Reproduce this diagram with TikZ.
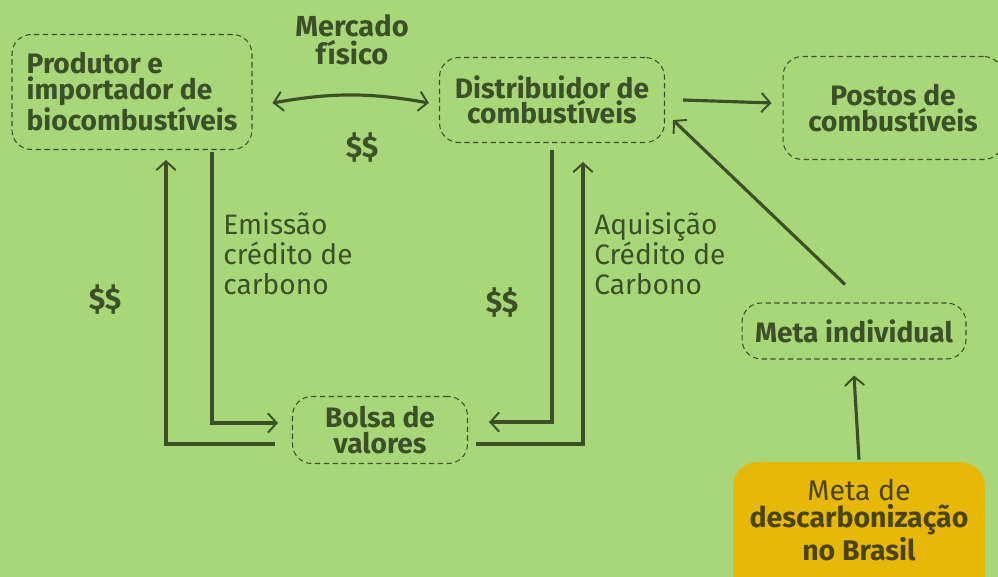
\documentclass[tikz,border=0pt]{standalone}
\usepackage{fontspec}
\setmainfont{Fira Sans}
\usetikzlibrary{arrows.meta,positioning}
\definecolor{bggreen}{RGB}{170,214,122}
\definecolor{inkgreen}{RGB}{60,80,40}
\definecolor{mustard}{RGB}{232,184,8}
\definecolor{inkolive}{RGB}{74,68,18}

\tikzset{
  entity/.style={draw=inkgreen, dashed, dash pattern=on 3pt off 2pt, rounded corners=11pt,
    line width=0.6pt, text=inkgreen, align=center, inner sep=0pt,
    font=\bfseries\fontsize{16}{14.5}\selectfont},
  flow/.style={draw=inkgreen, line width=1.8pt,
    -{Straight Barb[length=5pt,width=11pt,line width=1.1pt]}},
  dflow/.style={flow, {Straight Barb[length=5pt,width=11pt,line width=1.1pt]}-{Straight Barb[length=5pt,width=11pt,line width=1.1pt]}},
  note/.style={text=inkgreen, anchor=north west, align=left, inner sep=0pt,
    font=\fontsize{16}{17}\selectfont},
  money/.style={text=inkgreen, inner sep=0pt, font=\bfseries\fontsize{17}{17}\selectfont}
}

\begin{document}
\begin{tikzpicture}[x=0.02cm,y=-0.02cm]
\fill[bggreen] (0,0) rectangle (998,577);
\useasboundingbox (0,0) rectangle (998,577);

% actors
\node[entity, align=left, minimum width=4.8cm, minimum height=2.3cm] (prod) at (132,92)
  {Produtor e\\importador de\\biocombustíveis};
\node[entity, minimum width=4.5cm, minimum height=1.7cm] (dist) at (552,100)
  {Distribuidor de\\combustíveis};
\node[entity, minimum width=4.4cm, minimum height=2.06cm] (postos) at (893,108)
  {Postos de\\combustíveis};
\node[entity, minimum width=4.48cm, minimum height=1.12cm] (meta) at (854,331)
  {Meta individual};
\node[entity, minimum width=3.5cm, minimum height=1.34cm] (bolsa) at (380,430)
  {Bolsa de\\valores};
\node[fill=mustard, rounded corners=14pt, minimum width=5.04cm, minimum height=2.8cm,
  inner sep=0pt] (yel) at (859,532) {};
\node[text=inkolive, align=center, inner sep=0pt, font=\fontsize{16.2}{15.3}\selectfont] (yeltxt) at (859,520)
  {Meta de\\\textbf{descarbonização}\\\textbf{no Brasil}};

% labels
\node[text=inkgreen, align=center, font=\bfseries\fontsize{16.5}{16}\selectfont] (merc) at (352,40)
  {Mercado\\físico};
\node[money] (m1) at (362,148) {\$\$};
\node[money] (m2) at (105,300) {\$\$};
\node[money] (m3) at (502,303) {\$\$};
\node[note] (emis) at (223,212) {Emissão\\crédito de\\carbono};
\node[note] (aqui) at (594,212) {Aquisição\\Crédito de\\Carbono};

% flows
\draw[dflow] ([xshift=0.4cm,yshift=-0.22cm]prod.east) to[bend left=10] ([xshift=-0.2cm,yshift=-0.06cm]dist.west);
\draw[flow] ([xshift=0.36cm]dist.east) -- ([xshift=-0.22cm,yshift=0.1cm]postos.west);
\draw[flow] ([shift={(-0.18cm,0.36cm)}]meta.north) -- ([shift={(0.16cm,0.46cm)}]dist.south east);
\draw[flow] ([yshift=0.04cm]yel.north) -- ([yshift=-0.32cm]meta.south);
\draw[flow] ([xshift=1.6cm,yshift=-0.04cm]prod.south) |- ([xshift=-0.28cm,yshift=0.14cm]bolsa.west);
\draw[flow] ([xshift=-0.34cm,yshift=-0.28cm]bolsa.west) -| ([xshift=0.68cm,yshift=-0.2cm]prod.south);
\draw[flow] ([yshift=-0.14cm]dist.south) |- ([xshift=0.42cm,yshift=0.16cm]bolsa.east);
\draw[flow] ([xshift=0.16cm,yshift=-0.28cm]bolsa.east) -| ([xshift=0.62cm,yshift=-0.38cm]dist.south);
\end{tikzpicture}
\end{document}
